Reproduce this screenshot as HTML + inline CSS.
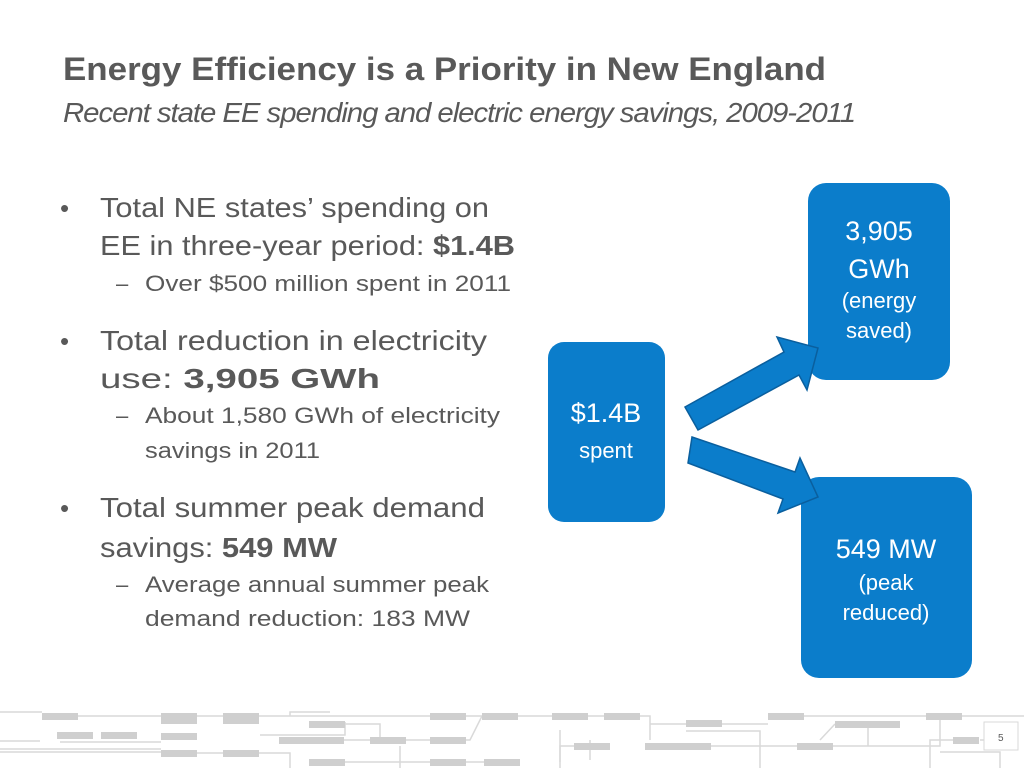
<!DOCTYPE html>
<html><head><meta charset="utf-8"><style>
html,body{margin:0;padding:0;background:#fff;}
svg{display:block;font-family:"Liberation Sans",sans-serif;}
.t{fill:#595959;}
.w{fill:#fff;}
</style></head><body>
<svg width="1024" height="768" viewBox="0 0 1024 768">
<g stroke="#d9d9d9" stroke-width="1.5" fill="none">
<path d="M0 712 H42 M78 716 H161 M197 716 H223 M259 716 H430 M466 716 H482 M518 716 H552 M588 716 H604 M640 716 H650 V740 M650 724 H686 M722 724 H768 M804 716 H926 M962 716 H1024"/>
<path d="M0 749 H161 M0 752 H161 M197 753 H223 M259 753 H290 V768 M0 741 H40 M60 742 H161"/>
<path d="M290 716 V712 H330 M345 722 V735 H260 M280 740 H370 M406 740 H430 M466 740 H470 L482 716"/>
<path d="M309 724 H380 V740 M340 762 H484 M520 762 H430 M400 746 V768 M560 730 V762 M590 740 V760"/>
<path d="M574 746 H560 V768 M645 746 H797 M833 746 H940 V716 M868 724 V746 M820 740 L835 724 M686 731 H760 V768"/>
<path d="M953 740 H930 V768 M940 752 H1000 V768 M980 740 H1003"/>
</g>
<g fill="#cfcfcf">
<rect x="42" y="713" width="36" height="7"/><rect x="161" y="713" width="36" height="7"/><rect x="223" y="713" width="36" height="7"/>
<rect x="430" y="713" width="36" height="7"/><rect x="482" y="713" width="36" height="7"/><rect x="552" y="713" width="36" height="7"/>
<rect x="604" y="713" width="36" height="7"/><rect x="768" y="713" width="36" height="7"/><rect x="926" y="713" width="36" height="7"/>
<rect x="161" y="717" width="36" height="7"/><rect x="223" y="717" width="36" height="7"/>
<rect x="686" y="720" width="36" height="7"/><rect x="309" y="721" width="36" height="7"/><rect x="835" y="721" width="65" height="7"/>
<rect x="57" y="732" width="36" height="7"/><rect x="101" y="732" width="36" height="7"/><rect x="161" y="733" width="36" height="7"/>
<rect x="279" y="737" width="65" height="7"/><rect x="370" y="737" width="36" height="7"/><rect x="430" y="737" width="36" height="7"/><rect x="953" y="737" width="26" height="7"/>
<rect x="574" y="743" width="36" height="7"/><rect x="645" y="743" width="66" height="7"/><rect x="797" y="743" width="36" height="7"/>
<rect x="161" y="750" width="36" height="7"/><rect x="223" y="750" width="36" height="7"/>
<rect x="309" y="759" width="36" height="7"/><rect x="430" y="759" width="36" height="7"/><rect x="484" y="759" width="36" height="7"/>
</g>
<rect x="984" y="722" width="34" height="28" fill="#fff" stroke="#d9d9d9"/>
<text x="998" y="741" font-size="10" class="t">5</text>

<text x="63" y="80" font-size="32" font-weight="bold" class="t" textLength="763" lengthAdjust="spacingAndGlyphs">Energy Efficiency is a Priority in New England</text>
<text x="63" y="122" font-size="28" font-style="italic" class="t" textLength="792" lengthAdjust="spacingAndGlyphs" letter-spacing="-1">Recent state EE spending and electric energy savings, 2009-2011</text>

<g class="t">
<text x="60" y="217" font-size="26">•</text>
<text x="100" y="217" font-size="28" textLength="389" lengthAdjust="spacingAndGlyphs">Total NE states’ spending on</text>
<text x="100" y="255" font-size="28" textLength="415" lengthAdjust="spacingAndGlyphs">EE in three-year period: <tspan font-weight="bold">$1.4B</tspan></text>
<text x="116" y="291" font-size="22">–</text>
<text x="145" y="291" font-size="22" textLength="366" lengthAdjust="spacingAndGlyphs">Over $500 million spent in 2011</text>
<text x="60" y="350" font-size="26">•</text>
<text x="100" y="350" font-size="28" textLength="387" lengthAdjust="spacingAndGlyphs">Total reduction in electricity</text>
<text x="100" y="388" font-size="28" textLength="280" lengthAdjust="spacingAndGlyphs">use: <tspan font-weight="bold">3,905 GWh</tspan></text>
<text x="116" y="423" font-size="22">–</text>
<text x="145" y="423" font-size="22" textLength="355" lengthAdjust="spacingAndGlyphs">About 1,580 GWh of electricity</text>
<text x="145" y="458" font-size="22" textLength="175" lengthAdjust="spacingAndGlyphs">savings in 2011</text>
<text x="60" y="517" font-size="26">•</text>
<text x="100" y="517" font-size="28" textLength="385" lengthAdjust="spacingAndGlyphs">Total summer peak demand</text>
<text x="100" y="557" font-size="28" textLength="237" lengthAdjust="spacingAndGlyphs">savings: <tspan font-weight="bold">549 MW</tspan></text>
<text x="116" y="592" font-size="22">–</text>
<text x="145" y="592" font-size="22" textLength="344" lengthAdjust="spacingAndGlyphs">Average annual summer peak</text>
<text x="145" y="626" font-size="22" textLength="325" lengthAdjust="spacingAndGlyphs">demand reduction: 183 MW</text>
</g>

<g>
<rect x="548" y="342" width="117" height="180" rx="16" fill="#0b7dcb"/>
<text x="606" y="422" font-size="27" text-anchor="middle" class="w">$1.4B</text>
<text x="606" y="458" font-size="22" text-anchor="middle" class="w">spent</text>
</g>
<g>
<rect x="808" y="183" width="142" height="197" rx="18" fill="#0b7dcb"/>
<text x="879" y="240" font-size="27" text-anchor="middle" class="w">3,905</text>
<text x="879" y="278" font-size="27" text-anchor="middle" class="w">GWh</text>
<text x="879" y="308" font-size="22" text-anchor="middle" class="w">(energy</text>
<text x="879" y="338" font-size="22" text-anchor="middle" class="w">saved)</text>
</g>
<g>
<rect x="801" y="477" width="171" height="201" rx="18" fill="#0b7dcb"/>
<text x="886" y="558" font-size="27" text-anchor="middle" class="w">549 MW</text>
<text x="886" y="590" font-size="22" text-anchor="middle" class="w">(peak</text>
<text x="886" y="620" font-size="22" text-anchor="middle" class="w">reduced)</text>
</g>
<polygon points="685,407 784,352 777,337 818,348 807,390 799,375 698,430" fill="#0b7dcb" stroke="#0a5f9e" stroke-width="1.5"/>
<polygon points="692,437 795,472 800,458 818,497 778,513 783,499 688,463" fill="#0b7dcb" stroke="#0a5f9e" stroke-width="1.5"/>
</svg>
</body></html>
